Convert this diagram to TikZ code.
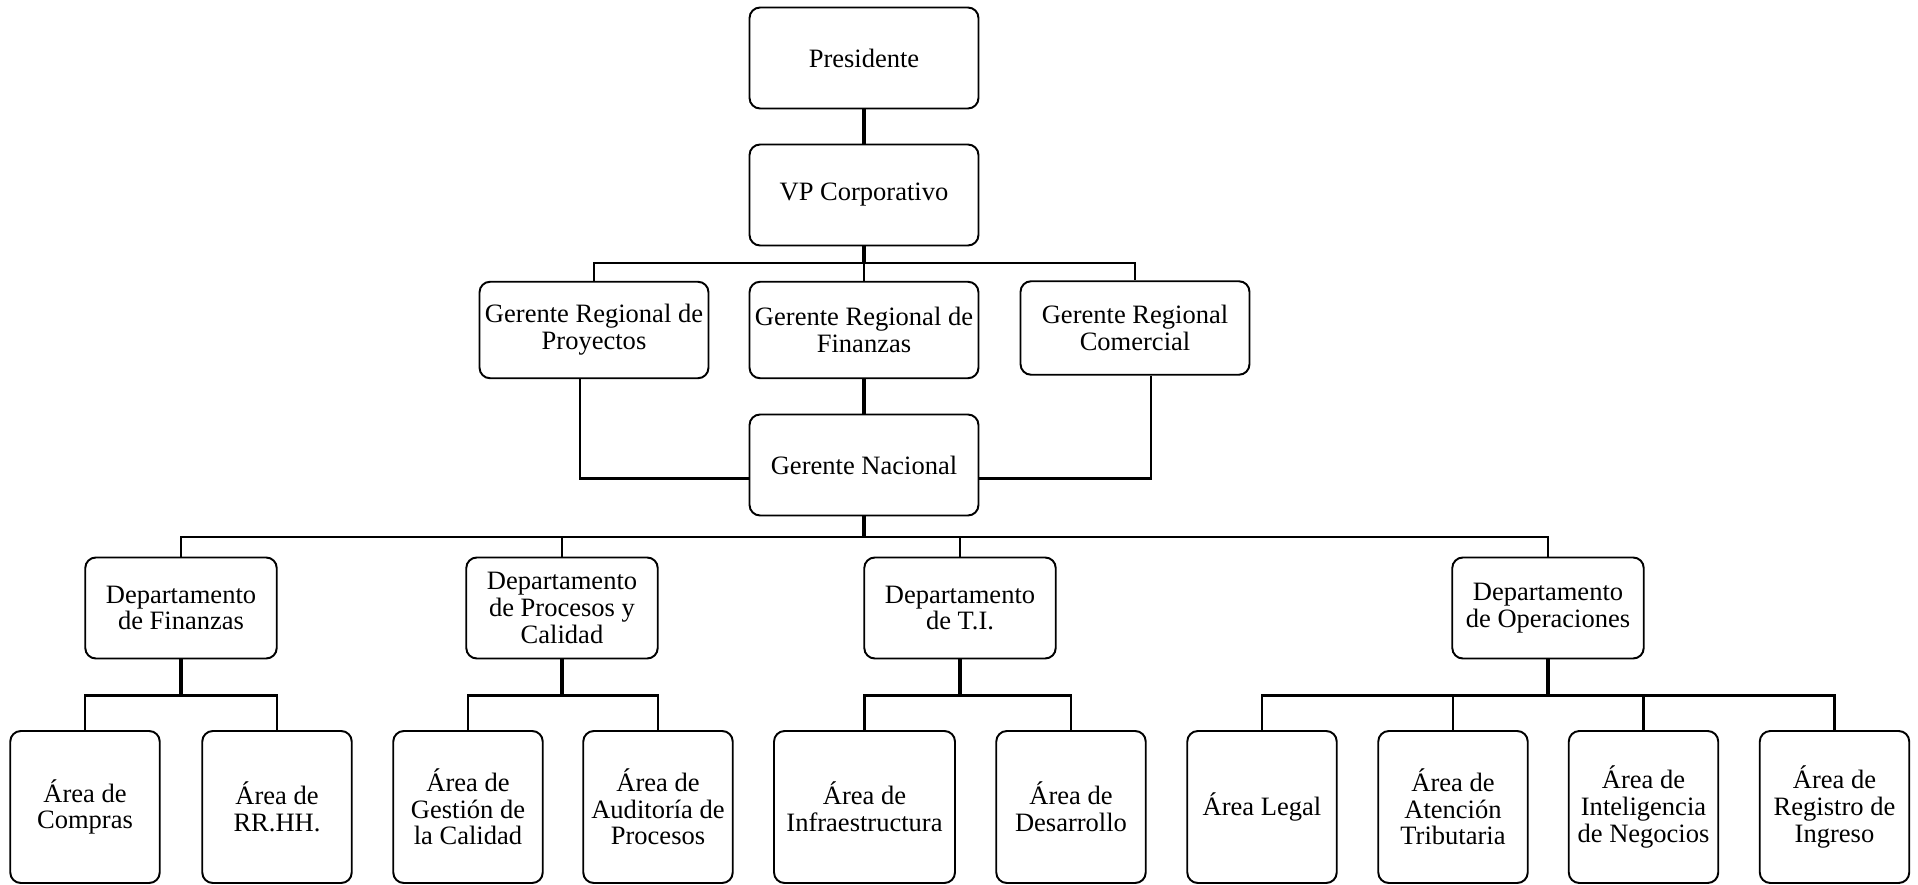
\documentclass[tikz,border=0pt]{standalone}
\usepackage{fontspec}
\setmainfont{Liberation Serif}
\usepackage{tikz}

\begin{document}
\begin{tikzpicture}[x=0.02cm,y=-0.02cm,
    box/.style={draw,rounded corners=6pt,line width=1.1pt,align=center,inner sep=2pt,
        font=\fontsize{15.1}{15.2}\selectfont},
    boss/.style={box,minimum width=4.58cm,minimum height=2.02cm},
    dept/.style={box,minimum width=3.83cm,minimum height=2.02cm},
    area/.style={box,minimum width=2.99cm,minimum height=3.04cm},
    trunk/.style={line width=2pt},
    link/.style={line width=1.2pt}]
    \useasboundingbox (0,0) rectangle (1918,885);

    % top levels
    \node[boss] (pres) at (864,58) {Presidente};
    \node[boss] (vp) at (864,195) {VP Corporativo};
    \node[boss,minimum height=1.93cm] (grp) at (594,330) {Gerente Regional de\\Proyectos};
    \node[boss,minimum height=1.93cm] (grf) at (864,330) {Gerente Regional de\\Finanzas};
    \node[boss,minimum height=1.87cm] (grc) at (1135,328) {Gerente Regional\\Comercial};
    \node[boss] (gn) at (864,465) {Gerente Nacional};

    % departamentos
    \node[dept] (dfin) at (181,608) {Departamento\\de Finanzas};
    \node[dept] (dpro) at (562,608) {Departamento\\de Procesos y\\Calidad};
    \node[dept] (dti) at (960,608) {Departamento\\de T.I.};
    \node[dept] (dop) at (1548,608) {Departamento\\de Operaciones};

    % areas
    \node[area] (compras) at (85,807) {Área de\\Compras};
    \node[area] (rrhh) at (277,807) {Área de\\RR.HH.};
    \node[area] (gest) at (468,807) {Área de\\Gestión de\\la Calidad};
    \node[area] (audi) at (658,807) {Área de\\Auditoría de\\Procesos};
    \node[area,minimum width=3.62cm] (infra) at (864.5,807) {Área de\\Infraestructura};
    \node[area] (desa) at (1071,807) {Área de\\Desarrollo};
    \node[area] (legal) at (1262,807) {Área Legal};
    \node[area] (aten) at (1453,807) {Área de\\Atención\\Tributaria};
    \node[area] (intel) at (1643.5,807) {Área de\\Inteligencia\\de Negocios};
    \node[area] (regi) at (1834.5,807) {Área de\\Registro de\\Ingreso};

    % connectors
    \coordinate (b0) at (864,263);
    \coordinate (b1) at (864,537);
    \draw[trunk] (pres) -- (vp);
    \draw[trunk] (vp) -- (b0);
    \draw[link] (b0) -| (grp.north);
    \draw[link] (b0) -| (grc.north);
    \draw[link] (b0) -- (grf);
    \draw[trunk] (grf) -- (gn);
    \draw[link] ([xshift=-0.28cm]grp.south) |- ([yshift=-0.27cm]gn.west);
    \draw[link] ([xshift=0.32cm]grc.south) |- ([yshift=-0.27cm]gn.east);
    \draw[trunk] (gn) -- (b1);
    \foreach \d in {dfin,dpro,dti,dop}
        \draw[link] (b1) -| (\d.north);
    \foreach \d/\kids in {dfin/{compras,rrhh},dpro/{gest,audi},dti/{infra,desa},dop/{legal,aten,intel,regi}}{
        \coordinate (\d-bus) at ([yshift=-0.72cm]\d.south);
        \draw[trunk] (\d) -- (\d-bus);
        \foreach \k in \kids
            \draw[link] (\d-bus) -| (\k.north);
    }
\end{tikzpicture}
\end{document}
